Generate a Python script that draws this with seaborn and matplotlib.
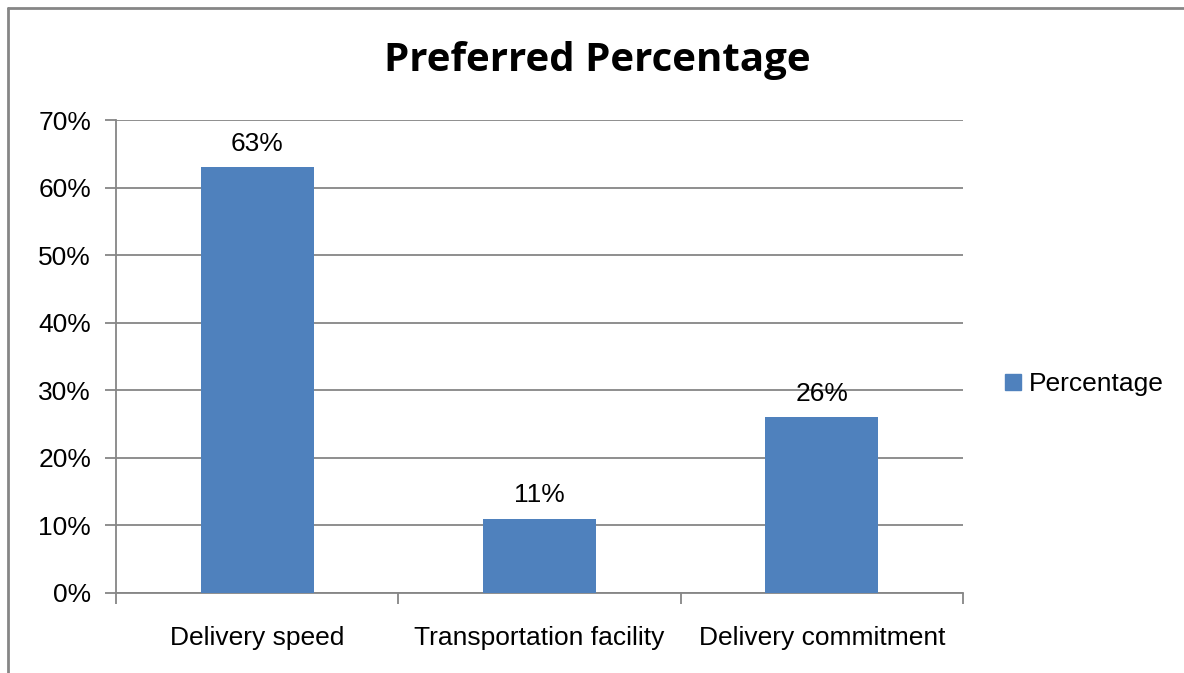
import pandas as pd
import seaborn as sns
import matplotlib
matplotlib.use('Agg')
import matplotlib.pyplot as plt
from matplotlib.ticker import PercentFormatter
from matplotlib.lines import Line2D

# data
categories = ['Delivery speed', 'Transportation facility', 'Delivery commitment']
percentage = [63, 11, 26]

df = pd.DataFrame({'category': categories, 'Percentage': percentage})

sns.set_style('white')
plt.rcParams['font.family'] = ['Liberation Sans', 'DejaVu Sans']
plt.rcParams['text.color'] = 'black'
plt.rcParams['xtick.color'] = 'black'
plt.rcParams['ytick.color'] = 'black'

fig = plt.figure(figsize=(11.84, 6.73), dpi=100)
ax = fig.add_axes([116 / 1184, 1 - 593 / 673, 847 / 1184, 473 / 673])

sns.barplot(data=df, x='category', y='Percentage', color='#4F81BD',
            width=0.4, saturation=1, linewidth=0, ax=ax, zorder=3)

# data labels
for p, v in zip(ax.patches, percentage):
    ax.text(p.get_x() + p.get_width() / 2, v + 1.7, f'{v}%',
            ha='center', va='bottom', fontsize=19, color='black')

ax.set_ylim(0, 70)
ax.set_xlim(-0.5, 2.5)
ax.set_yticks(range(0, 71, 10))
ax.yaxis.set_major_formatter(PercentFormatter(decimals=0))
ax.set_xlabel('')
ax.set_ylabel('')

grey = '#868686'
ax.grid(axis='y', color=grey, linewidth=1.3, zorder=0)
ax.set_axisbelow(True)
for s in ['top', 'right']:
    ax.spines[s].set_visible(False)
for s in ['left', 'bottom']:
    ax.spines[s].set_color(grey)
    ax.spines[s].set_linewidth(1.3)

# x ticks sit between categories, labels centred on bars
ax.set_xticks([-0.5, 0.5, 1.5, 2.5])
ax.set_xticklabels([])
ax.set_xticks([0, 1, 2], minor=True)
ax.set_xticklabels(categories, minor=True)
ax.tick_params(axis='x', which='major', bottom=True, direction='out', length=8,
               width=1.3, color=grey)
ax.tick_params(axis='x', which='minor', bottom=False, length=0, pad=24,
               labelsize=19, labelcolor='black')
ax.tick_params(axis='y', left=True, direction='out', length=8, width=1.3, color=grey,
               labelsize=19, labelcolor='black', pad=10)

fig.text(597 / 1184, 1 - 60 / 673, 'Preferred Percentage', ha='center', va='center',
         fontsize=29, fontweight='bold', color='black',
         family=['Open Sans', 'DejaVu Sans'])

handle = Line2D([], [], marker='s', color='#4F81BD', linestyle='none', markersize=12)
fig.legend([handle], ['Percentage'], loc='center left',
           bbox_to_anchor=(976 / 1184, 1 - 384 / 673), frameon=False,
           fontsize=19, handletextpad=0.1, handlelength=1.0, labelcolor='black')

# outer frame (left and top edges only visible)
fig.add_artist(Line2D([8 / 1184, 8 / 1184], [0, 1 - 8 / 673], transform=fig.transFigure,
                      color=grey, linewidth=2))
fig.add_artist(Line2D([8 / 1184, 1], [1 - 8 / 673, 1 - 8 / 673], transform=fig.transFigure,
                      color=grey, linewidth=2))

fig.savefig('out.png', dpi=100)
